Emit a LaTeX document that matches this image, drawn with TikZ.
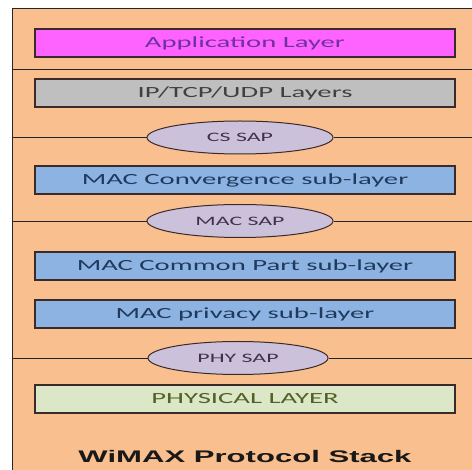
\documentclass[tikz,border=0pt]{standalone}
\usepackage{fontspec}
\usetikzlibrary{shapes.geometric}
\newfontfamily\calfont{Carlito}
\newfontfamily\arialfont{Liberation Sans}
\definecolor{peach}{HTML}{F9BF8F}
\definecolor{magentabox}{HTML}{FF63FF}
\definecolor{apptext}{HTML}{7030A0}
\definecolor{graybox}{HTML}{BFBFBF}
\definecolor{graytext}{HTML}{404040}
\definecolor{bluebox}{HTML}{8DB3E2}
\definecolor{bluetext}{HTML}{1F3A5C}
\definecolor{lavender}{HTML}{CCC1DA}
\definecolor{lavtext}{HTML}{3F3151}
\definecolor{greenbox}{HTML}{DCE7C8}
\definecolor{greentext}{HTML}{4F6228}
\definecolor{boxborder}{HTML}{3A2A2A}
\newcommand{\wide}[1]{\scalebox{1.85}[1]{#1}}
\tikzset{
  layerbox/.style={draw=boxborder, line width=1.3pt, minimum width=420pt, minimum height=28pt, inner sep=0pt,
     font=\calfont\fontsize{15.5}{18}\selectfont},
  sapell/.style={ellipse, draw=boxborder, line width=1pt, fill=lavender, minimum width=186pt, minimum height=33pt,
     inner sep=0pt, text=lavtext, font=\calfont\fontsize{12.9}{15}\selectfont},
  sepline/.style={draw=black!85, line width=0.9pt}
}
\begin{document}
\begin{tikzpicture}[x=1pt,y=-1pt]
\useasboundingbox (0,0) rectangle (472,470);
\fill[white] (0,0) rectangle (472,470);
\draw[fill=peach, draw=black!85, line width=1pt] (12,9) rectangle (490,490);
% separator lines
\coordinate (topL) at (12,69);
\coordinate (topR) at (480,69);
\draw[sepline] (topL) -- (topR);
\coordinate (csL) at (12,137.5);
\coordinate (csR) at (480,137.5);
\coordinate (macL) at (12,221);
\coordinate (macR) at (480,221);
\coordinate (phyL) at (12,358);
\coordinate (phyR) at (480,358);
% layers
\node[layerbox, fill=magentabox, text=apptext] (app) at (245,43) {\wide{Application Layer}};
\node[layerbox, fill=graybox, text=graytext] (ip) at (245,93) {\wide{IP/TCP/UDP Layers}};
\node[layerbox, fill=bluebox, text=bluetext] (conv) at (245,180) {\wide{MAC Convergence sub-layer}};
\node[layerbox, fill=bluebox, text=bluetext] (cps) at (245,266) {\wide{MAC Common Part sub-layer}};
\node[layerbox, fill=bluebox, text=bluetext] (priv) at (245,314) {\wide{MAC privacy sub-layer}};
\node[layerbox, fill=greenbox, text=greentext] (phy) at (245,399) {\wide{PHYSICAL LAYER}};
% SAPs
\node[sapell] (cs) at (240,137.5) {\wide{CS SAP}};
\node[sapell] (macsap) at (240,221) {\wide{MAC SAP}};
\node[sapell, minimum width=180pt] (physap) at (238,358) {\wide{PHY SAP}};
\draw[sepline] (csL) -- (cs.west);
\draw[sepline] (cs.east) -- (csR);
\draw[sepline] (macL) -- (macsap.west);
\draw[sepline] (macsap.east) -- (macR);
\draw[sepline] (phyL) -- (physap.west);
\draw[sepline] (physap.east) -- (phyR);
% title
\node[font=\arialfont\bfseries\fontsize{16.8}{20}\selectfont, text=black!90, inner sep=0pt] (title) at (245,456) {\wide{WiMAX Protocol Stack}};
\end{tikzpicture}
\end{document}
